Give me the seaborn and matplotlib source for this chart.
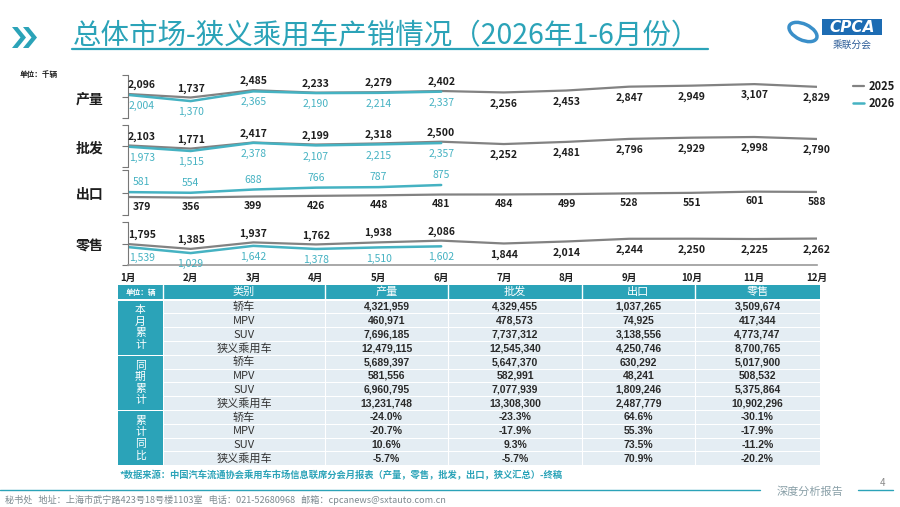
import matplotlib
matplotlib.use("Agg")
import matplotlib.pyplot as plt
import seaborn as sns
import pandas as pd
from matplotlib.patches import Rectangle, Polygon, Ellipse

sns.set_theme(style="white")
plt.rcParams['font.family'] = ['Noto Sans CJK SC', 'DejaVu Sans']

# ---- line chart data (千辆) ----
months = ['1月', '2月', '3月', '4月', '5月', '6月', '7月', '8月', '9月', '10月', '11月', '12月']
prod_2025 = [2096, 1737, 2485, 2233, 2279, 2402, 2256, 2453, 2847, 2949, 3107, 2829]
prod_2026 = [2004, 1370, 2365, 2190, 2214, 2337]
whole_2025 = [2103, 1771, 2417, 2199, 2318, 2500, 2252, 2481, 2796, 2929, 2998, 2790]
whole_2026 = [1973, 1515, 2378, 2107, 2215, 2357]
export_2025 = [379, 356, 399, 426, 448, 481, 484, 499, 528, 551, 601, 588]
export_2026 = [581, 554, 688, 766, 787, 875]
retail_2025 = [1795, 1385, 1937, 1762, 1938, 2086, 1844, 2014, 2244, 2250, 2225, 2262]
retail_2026 = [1539, 1029, 1642, 1378, 1510, 1602]
band_names = ['产量', '批发', '出口', '零售']

# ---- table data (辆) ----
table_cols = ['类别', '产量', '批发', '出口', '零售']
groups = ['本月累计', '同期累计', '累计同比']
cats = ['轿车', 'MPV', 'SUV', '狭义乘用车']
cur_prod = [4321959, 460971, 7696185, 12479115]
cur_whole = [4329455, 478573, 7737312, 12545340]
cur_export = [1037265, 74925, 3138556, 4250746]
cur_retail = [3509674, 417344, 4773747, 8700765]
prev_prod = [5689397, 581556, 6960795, 13231748]
prev_whole = [5647370, 582991, 7077939, 13308300]
prev_export = [630292, 48241, 1809246, 2487779]
prev_retail = [5017900, 508532, 5375864, 10902296]
yoy_prod = [-24.0, -20.7, 10.6, -5.7]
yoy_whole = [-23.3, -17.9, 9.3, -5.7]
yoy_export = [64.6, 55.3, 73.5, 70.9]
yoy_retail = [-30.1, -17.9, -11.2, -20.2]

TEAL = '#2ba3b8'
LINE26 = '#45b2c2'
GREY = '#828282'
DARK = '#1e1e1e'
W, H = 900, 507

fig = plt.figure(figsize=(9, 5.07), dpi=100)
fig.patch.set_facecolor('white')

# overlay axes in pixel coordinates for title / table / footer
ov = fig.add_axes([0, 0, 1, 1], zorder=0)
ov.set_xlim(0, W)
ov.set_ylim(H, 0)
ov.axis('off')

# title
for x0 in (12, 23):
    ov.add_patch(Polygon([[x0, 27], [x0 + 5.5, 27], [x0 + 14, 37.5], [x0 + 5.5, 48], [x0, 48], [x0 + 8.5, 37.5]],
                         closed=True, color=TEAL, lw=0))
ov.text(73, 36, '总体市场-狭义乘用车产销情况（2026年1-6月份）', fontsize=20.5, color=TEAL,
        va='center', ha='left')
ov.plot([72, 708], [49, 49], color=TEAL, lw=1.6)

# logo
ov.add_patch(Ellipse((803, 32), 30, 16, angle=25, fill=False, ec='#3a8fc9', lw=2.5))
ov.add_patch(Rectangle((822, 19), 60, 16, color='#1d6cb3', lw=0))
ov.text(852, 27, 'CPCA', color='white', fontsize=11, fontweight='bold', fontstyle='italic',
        ha='center', va='center', family=['DejaVu Sans'])
ov.text(852, 45, '乘联分会', color='#2a5a96', fontsize=7, ha='center', va='center')

ov.text(20, 75, '单位：千辆', fontsize=5.5, fontweight='bold', color=DARK, va='center')

# ---- line bands ----
bands = [
    (prod_2025, prod_2026, (75, 118), (-360, 4040), False),
    (whole_2025, whole_2026, (125, 167), (-180, 4270), False),
    (export_2025, export_2026, (170, 215), (-365, 1495), True),
    (retail_2025, retail_2026, (222, 265), (15, 3670), False),
]
x_left, x_right = 128, 817
month_idx = list(range(1, 13))

axes = []
for i, (v25, v26, (top, bot), ylim, export_band) in enumerate(bands):
    ax = fig.add_axes([x_left / W, 1 - bot / H, (x_right - x_left) / W, (bot - top) / H], zorder=2)
    ax.patch.set_alpha(0)
    df25 = pd.DataFrame({'m': month_idx, 'v': v25})
    df26 = pd.DataFrame({'m': month_idx[:len(v26)], 'v': v26})
    sns.lineplot(data=df25, x='m', y='v', ax=ax, color=GREY, linewidth=1.6, label='2025')
    sns.lineplot(data=df26, x='m', y='v', ax=ax, color=LINE26, linewidth=1.8, label='2026')
    ax.set_xlim(1, 12)
    ax.set_ylim(*ylim)
    for s in ('top', 'right'):
        ax.spines[s].set_visible(False)
    ax.spines['left'].set_color('#777777')
    ax.spines['left'].set_linewidth(0.8)
    ax.set_yticks([ylim[0], (ylim[0] + ylim[1]) / 2, ylim[1]])
    ax.set_yticklabels([])
    ax.tick_params(axis='y', direction='out', length=4, width=0.8, color='#777777', left=True)
    ax.set_ylabel('')
    ax.set_xlabel('')
    if i < 3:
        ax.spines['bottom'].set_visible(False)
        ax.set_xticks([])
    else:
        ax.spines['bottom'].set_color('#9a9a9a')
        ax.spines['bottom'].set_linewidth(1.2)
        ax.set_xticks(month_idx)
        ax.set_xticklabels(months, fontsize=7, fontweight='bold', color=DARK)
        ax.tick_params(axis='x', length=0, pad=6)
    ax.get_legend().remove()

    for m, v in zip(month_idx, v25):
        dx = 10 if m == 1 else 0
        if export_band:
            dy = -7
        else:
            dy = 6.5 if m <= len(v26) else -8
        ax.annotate(f'{v:,}', (m, v), xytext=(dx, dy), textcoords='offset points',
                    ha='center', va='center', fontsize=7.5, fontweight='bold', color=DARK)
    for m, v in zip(month_idx, v26):
        dx = 10 if m == 1 else 0
        dy = 7 if export_band else -8
        ax.annotate(f'{v:,}', (m, v), xytext=(dx, dy), textcoords='offset points',
                    ha='center', va='center', fontsize=7.5, color=LINE26)
    ov.text(90, (top + bot) / 2 + 3, band_names[i], fontsize=10, fontweight='bold',
            color=DARK, ha='center', va='center')
    axes.append(ax)

handles, labels = axes[0].get_legend_handles_labels()
fig.legend(handles, ['2025', '2026'], loc='upper left', bbox_to_anchor=(843 / W, 1 - 70 / H),
           frameon=False, handlelength=1.0, handletextpad=0.4, labelspacing=0.35,
           labelcolor=DARK, prop={'weight': 'bold', 'size': 8})

# ---- table ----
col_edges = [118, 163, 325, 448, 582, 695, 820]
head_top, head_bot = 285, 299
row_top, row_h = 300, 13.8

ov.add_patch(Rectangle((col_edges[0], head_top), col_edges[-1] - col_edges[0], head_bot - head_top,
                       color=TEAL, lw=0))
ov.text((col_edges[0] + col_edges[1]) / 2, (head_top + head_bot) / 2, '单位：辆', color='white',
        fontsize=5.5, fontweight='bold', ha='center', va='center')
for j, name in enumerate(table_cols):
    cx = (col_edges[j + 1] + col_edges[j + 2]) / 2
    ov.text(cx, (head_top + head_bot) / 2, name, color='white', fontsize=8, ha='center', va='center')
    ov.plot([col_edges[j + 1]] * 2, [head_top, head_bot], color='white', lw=1)

table_rows = [
    [cur_prod, cur_whole, cur_export, cur_retail],
    [prev_prod, prev_whole, prev_export, prev_retail],
    [yoy_prod, yoy_whole, yoy_export, yoy_retail],
]
for g, gname in enumerate(groups):
    gy0 = row_top + g * 4 * row_h
    ov.add_patch(Rectangle((col_edges[0], gy0 + 0.6), col_edges[1] - col_edges[0] - 0.5, 4 * row_h - 1.2,
                           color=TEAL, lw=0))
    # vertical group label, one character per line
    for k, ch in enumerate(gname):
        ov.text((col_edges[0] + col_edges[1]) / 2, gy0 + 2 * row_h + (k - 1.5) * 11.5, ch,
                color='white', fontsize=7.8, ha='center', va='center')
    for r, cat in enumerate(cats):
        y0 = gy0 + r * row_h
        ov.add_patch(Rectangle((col_edges[1] + 0.5, y0 + 0.5), col_edges[-1] - col_edges[1] - 0.5, row_h - 1,
                               color='#e4edf3', lw=0))
        yc = y0 + row_h / 2
        ov.text((col_edges[1] + col_edges[2]) / 2, yc, cat, fontsize=8, color='#333333',
                ha='center', va='center')
        for c, series in enumerate(table_rows[g]):
            v = series[r]
            s = f'{v:.1f}%' if g == 2 else f'{v:,}'
            ov.text((col_edges[c + 2] + col_edges[c + 3]) / 2, yc, s, fontsize=7.5, fontweight='bold',
                    color='#2a2a2a', ha='center', va='center', family=['Liberation Sans', 'DejaVu Sans'])
for xe in col_edges[2:-1]:
    ov.plot([xe, xe], [row_top, row_top + 12 * row_h], color='white', lw=0.8)

ov.text(120, 475, '*数据来源：中国汽车流通协会乘用车市场信息联席分会月报表（产量，零售，批发，出口，狭义汇总）-终稿',
        fontsize=6.7, fontweight='bold', color=TEAL, ha='left', va='center')

# ---- footer ----
ov.plot([0, 760], [490, 490], color=TEAL, lw=1)
ov.plot([858, 893], [490, 490], color=TEAL, lw=1)
ov.text(810, 492, '深度分析报告', fontsize=8, color='#8aa0a8', ha='center', va='center', fontstyle='italic')
ov.text(882, 483, '4', fontsize=7, color='#8a8a8a', ha='center', va='center')
ov.text(5, 500, '秘书处   地址：上海市武宁路423号18号楼1103室   电话：021-52680968   邮箱：cpcanews@sxtauto.com.cn',
        fontsize=6.6, color='#7d8a90', ha='left', va='center')

fig.savefig('out.png', dpi=100)
